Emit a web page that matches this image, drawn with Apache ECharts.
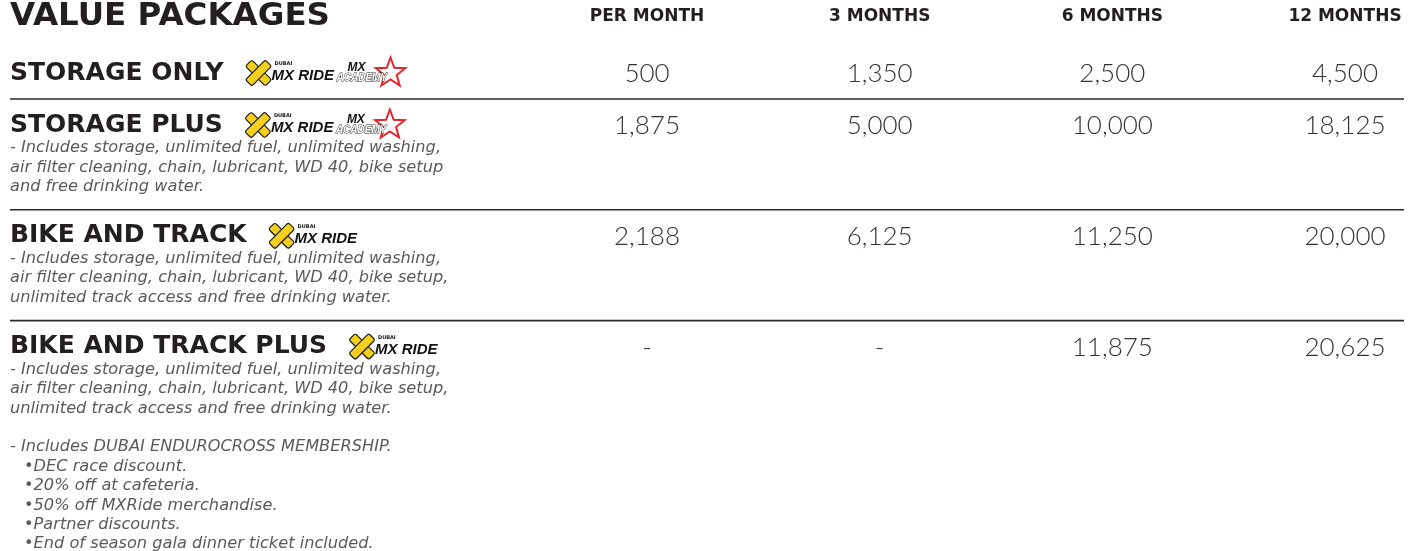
<!DOCTYPE html>
<html><head><meta charset="utf-8">
<script src="https://cdn.jsdelivr.net/npm/echarts@6/dist/echarts.min.js"></script>
<style>html,body{margin:0;padding:0;background:#fff}#c{width:1411px;height:551px}</style>
</head><body><div id="c"></div>
<script>
// ---------- DATA ----------
const tableTitle = 'VALUE PACKAGES';
const periods = ['PER MONTH', '3 MONTHS', '6 MONTHS', '12 MONTHS'];
const packages = ['STORAGE ONLY', 'STORAGE PLUS', 'BIKE AND TRACK', 'BIKE AND TRACK PLUS'];
const perMonth = [500, 1875, 2188, null];
const threeMonths = [1350, 5000, 6125, null];
const sixMonths = [2500, 10000, 11250, 11875];
const twelveMonths = [4500, 18125, 20000, 20625];
const packageLogos = [['mxride', 'academy'], ['mxride', 'academy'], ['mxride'], ['mxride']];
const descStoragePlus = [
  '- Includes storage, unlimited fuel, unlimited washing,',
  'air filter cleaning, chain, lubricant, WD 40, bike setup',
  'and free drinking water.'
];
const descBikeTrack = [
  '- Includes storage, unlimited fuel, unlimited washing,',
  'air filter cleaning, chain, lubricant, WD 40, bike setup,',
  'unlimited track access and free drinking water.'
];
const descBikeTrackPlus = [
  '- Includes storage, unlimited fuel, unlimited washing,',
  'air filter cleaning, chain, lubricant, WD 40, bike setup,',
  'unlimited track access and free drinking water.',
  '',
  '- Includes DUBAI ENDUROCROSS MEMBERSHIP.',
  '•DEC race discount.',
  '•20% off at cafeteria.',
  '•50% off MXRide merchandise.',
  '•Partner discounts.',
  '•End of season gala dinner ticket included.'
];
const descriptions = [[], descStoragePlus, descBikeTrack, descBikeTrackPlus];

// ---------- LAYOUT ----------
const priceCols = [perMonth, threeMonths, sixMonths, twelveMonths];
const L = { left: 10, tableTop: 47, labelOff: 26, descOff: 23, lineH: 19.4, sepOff: 23, sepOffNoDesc: 26, right: 1404 };
const dark = '#231f20';
const labelFont = 'bold 25px "DejaVu Sans"';
const descFont = 'italic 16.2px "DejaVu Sans"';
const rowLayout = [];
(function () {
  let top = L.tableTop;
  packages.forEach((p, i) => {
    const lc = top + L.labelOff;
    const d = descriptions[i];
    const descY = d.map((_, k) => lc + L.descOff + k * L.lineH);
    const sep = d.length ? descY[d.length - 1] + L.sepOff : lc + L.sepOffNoDesc;
    rowLayout.push({ label: lc, desc: descY, sep: sep });
    top = sep;
  });
})();
const mctx = document.createElement('canvas').getContext('2d');
function textW(t, font) { mctx.font = font; return mctx.measureText(t).width; }

function mxRideLogo(x, cy) {
  const cx = x + 12;
  const arm = (rot) => ({
    type: 'rect', x: cx, y: cy, rotation: rot,
    shape: { x: -4.5, y: -14, width: 9, height: 28, r: 2 },
    style: { fill: '#f4d01c', stroke: '#1a1a1a', lineWidth: 1.2 }
  });
  return [
    arm(Math.PI / 4), arm(-Math.PI / 4),
    { type: 'text', x: x + 28, y: cy - 9, style: { text: 'DUBAI', fill: '#111', font: 'bold 5px "DejaVu Sans"', verticalAlign: 'middle' } },
    { type: 'text', x: x + 25, y: cy + 3, style: { text: 'MX RIDE', fill: '#111', font: 'italic bold 15px "Liberation Sans"', verticalAlign: 'middle' } }
  ];
}
function academyLogo(x, cy) {
  const sc = [x + 54, cy], R = 15.5, r = 6.5, pts = [];
  for (let k = 0; k < 10; k++) {
    const a = -Math.PI / 2 + k * Math.PI / 5, rr = k % 2 ? r : R;
    pts.push([sc[0] + rr * Math.cos(a), sc[1] + rr * Math.sin(a)]);
  }
  return [
    { type: 'polygon', shape: { points: pts }, style: { fill: 'none', stroke: '#e4232b', lineWidth: 2 } },
    { type: 'text', x: x + 11, y: cy - 5, style: { text: 'MX', fill: '#111', font: 'italic bold 12px "Liberation Sans"', verticalAlign: 'middle' } },
    { type: 'text', x: x, y: cy + 5, style: { text: 'ACADEMY', fill: '#fff', stroke: '#222', lineWidth: 0.8, font: 'italic bold 10px "Liberation Sans"', verticalAlign: 'middle' } }
  ];
}

function renderRow(params, api) {
  const i = api.value(0);
  const lay = rowLayout[i];
  const children = [];
  children.push({ type: 'text', x: L.left, y: lay.label, style: { text: packages[i], fill: dark, font: labelFont, verticalAlign: 'middle' } });
  let lx = L.left + textW(packages[i], labelFont) + 23;
  packageLogos[i].forEach(lg => {
    if (lg === 'mxride') { children.push(...mxRideLogo(lx, lay.label)); lx += 90; }
    else { children.push(...academyLogo(lx, lay.label)); lx += 75; }
  });
  descriptions[i].forEach((t, k) => {
    const indent = t.startsWith('•') ? 14 : 0;
    children.push({ type: 'text', x: L.left + indent, y: lay.desc[k], style: { text: t, fill: '#5a5a5a', font: descFont, verticalAlign: 'middle' } });
  });
  if (i < packages.length - 1) {
    children.push({ type: 'line', shape: { x1: L.left, y1: lay.sep, x2: L.right, y2: lay.sep }, style: { stroke: '#2a2a2a', lineWidth: 1.6 } });
  }
  return { type: 'group', children: children };
}

function renderCell(params, api) {
  const c = api.value(0), r = api.value(1);
  const v = priceCols[c][r];
  const x = api.coord([c, r])[0];
  return {
    type: 'text', x: x, y: rowLayout[r].label + 1,
    style: { text: v == null ? '-' : v.toLocaleString('en-US'), fill: '#333', font: '300 26px "Lato"', align: 'center', verticalAlign: 'middle' }
  };
}

const cellData = [];
priceCols.forEach((col, c) => col.forEach((v, r) => cellData.push([c, r])));

const chart = echarts.init(document.getElementById('c'), null, { renderer: 'canvas' });
chart.setOption({
  backgroundColor: '#fff',
  animation: false,
  title: { text: tableTitle, left: 10, top: 0, padding: 0, textStyle: { fontFamily: 'DejaVu Sans', fontWeight: 'bold', fontSize: 32.5, color: dark } },
  grid: { left: 647, right: 66, top: 27, bottom: 10 },
  xAxis: {
    type: 'category', data: periods, position: 'top', boundaryGap: false,
    axisLine: { show: false }, axisTick: { show: false }, splitLine: { show: false },
    axisLabel: { margin: 2, fontFamily: 'DejaVu Sans', fontWeight: 'bold', fontSize: 17, color: dark }
  },
  yAxis: { type: 'category', data: packages, show: false, inverse: true },
  series: [
    { type: 'custom', coordinateSystem: 'none', data: packages.map((p, i) => [i]), renderItem: renderRow, silent: true },
    { type: 'custom', data: cellData, renderItem: renderCell, silent: true }
  ]
});
</script></body></html>
